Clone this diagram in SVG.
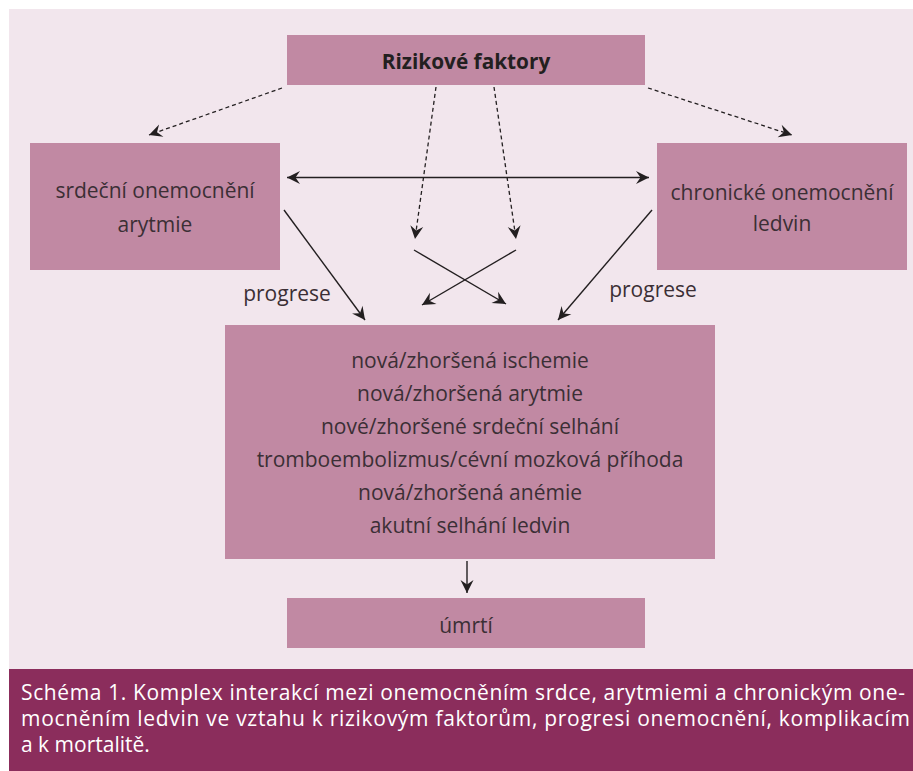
<svg xmlns="http://www.w3.org/2000/svg" width="913" height="771" viewBox="0 0 913 771">
<style>
.box{fill:#c189a3}
.t{font-family:"Open Sans","Noto Sans","DejaVu Sans",sans-serif;font-size:21px;fill:#3b2f35;text-anchor:middle}
.b{font-weight:bold;fill:#231f20;font-size:20.8px}
.cap{font-family:"Open Sans","Noto Sans","DejaVu Sans",sans-serif;font-size:21px;fill:#ffffff}
.s{stroke:#231f20;stroke-width:1.4;fill:none}
.d{stroke:#231f20;stroke-width:1.3;fill:none;stroke-dasharray:4 3}
</style>
<defs>
<marker id="ah" markerUnits="userSpaceOnUse" viewBox="-14 -8 16 16" refX="0" refY="0" markerWidth="16" markerHeight="16" orient="auto-start-reverse">
<path d="M0,0 L-13,-6.5 L-8.5,0 L-13,6.5 Z" fill="#231f20"/>
</marker>
</defs>
<rect x="0" y="0" width="913" height="771" fill="#ffffff"/>
<rect x="9" y="9" width="904" height="660" fill="#f2e6ed"/>

<g id="rizikove-faktory">
<rect class="box" x="287" y="35" width="358" height="50"/>
<text class="t b" x="466" y="69">Rizikové faktory</text>
</g>
<g id="srdecni-onemocneni">
<rect class="box" x="30" y="143" width="250" height="127"/>
<text class="t" x="155" y="198">srdeční onemocnění</text>
<text class="t" x="155" y="232">arytmie</text>
</g>
<g id="chronicke-onemocneni">
<rect class="box" x="657" y="143" width="250" height="127"/>
<text class="t" x="782" y="200">chronické onemocnění</text>
<text class="t" x="782" y="231">ledvin</text>
</g>
<g id="komplikace">
<rect class="box" x="225" y="325" width="490" height="234"/>
<text class="t" x="470" y="368">nová/zhoršená ischemie</text>
<text class="t" x="470" y="401">nová/zhoršená arytmie</text>
<text class="t" x="470" y="434">nové/zhoršené srdeční selhání</text>
<text class="t" x="470" y="467">tromboembolizmus/cévní mozková příhoda</text>
<text class="t" x="470" y="500">nová/zhoršená anémie</text>
<text class="t" x="470" y="533">akutní selhání ledvin</text>
</g>
<g id="umrti">
<rect class="box" x="287" y="598" width="358" height="50"/>
<text class="t" x="466" y="633">úmrtí</text>
</g>

<g id="connectors">
<line class="d" x1="282" y1="88" x2="149" y2="135" marker-end="url(#ah)"/>
<line class="d" x1="648" y1="88" x2="792" y2="135" marker-end="url(#ah)"/>
<line class="d" x1="436" y1="87" x2="415" y2="239" marker-end="url(#ah)"/>
<line class="d" x1="494" y1="87" x2="516" y2="239" marker-end="url(#ah)"/>
<line class="s" x1="287" y1="177.5" x2="649" y2="177.5" marker-start="url(#ah)" marker-end="url(#ah)"/>
<line class="s" x1="414" y1="250" x2="506" y2="304" marker-end="url(#ah)"/>
<line class="s" x1="516" y1="250" x2="422" y2="305" marker-end="url(#ah)"/>
<line class="s" x1="284" y1="210" x2="365" y2="320" marker-end="url(#ah)"/>
<line class="s" x1="652" y1="210" x2="558" y2="320" marker-end="url(#ah)"/>
<line class="s" x1="467" y1="561" x2="467" y2="593" marker-end="url(#ah)"/>
<text class="t" x="287" y="301">progrese</text>
<text class="t" x="653" y="297">progrese</text>
</g>

<g id="caption">
<rect x="9" y="669" width="904" height="102" fill="#8b2d5c"/>
<text class="cap" x="21" y="700" textLength="884" lengthAdjust="spacing">Schéma 1. Komplex interakcí mezi onemocněním srdce, arytmiemi a chronickým one-</text>
<text class="cap" x="21" y="726" textLength="889" lengthAdjust="spacing">mocněním ledvin ve vztahu k rizikovým faktorům, progresi onemocnění, komplikacím</text>
<text class="cap" x="21" y="752">a k mortalitě.</text>
</g>
</svg>
